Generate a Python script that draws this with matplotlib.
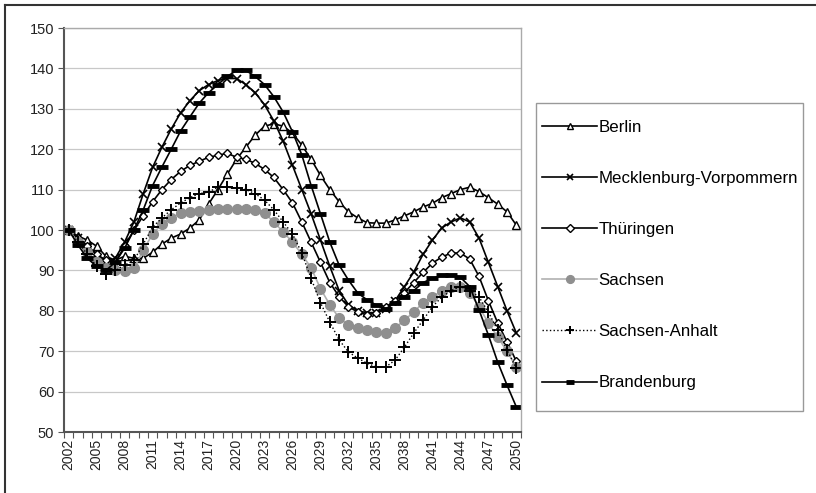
import matplotlib
matplotlib.use("Agg")
import matplotlib.pyplot as plt
from matplotlib.lines import Line2D
from matplotlib.patches import Rectangle
import numpy as np

plt.rcParams['font.family'] = ['Liberation Sans', 'DejaVu Sans']

years = list(range(2002, 2051))

berlin = [100, 98.5, 97.5, 96, 93.5, 92.5, 93.5, 93, 93,
          94.5, 96.5, 98, 99, 100.5, 102.5, 106.4, 110, 113.8, 117.5,
          120.5, 123.5, 125.7, 126.3, 125.7, 124, 121, 117.5, 113.5, 110,
          107, 104.5, 103, 101.8, 101.7, 101.7, 102.5, 103.5, 104.5, 105.7,
          106.6, 108, 109, 110, 110.6, 109.5, 108, 106.4, 104.5, 101.2]
meckpom = [100, 98, 96, 94, 92, 93, 97, 102, 109,
           115.5, 120.5, 125, 129, 132, 134.5, 136, 137, 137.5, 137.5,
           136, 134, 131, 127, 122, 116, 110, 104, 97.5, 91,
           85, 81.5, 80, 79.5, 79.5, 80.5, 82.5, 86, 89.6, 94,
           97.5, 100.5, 102, 103, 102, 98, 92, 86, 80, 74.5]
thueringen = [100, 98, 96, 94, 92.5, 92, 96, 100, 103.5,
              107, 110, 112.5, 114.5, 116, 117, 118, 118.5, 119, 118,
              117.5, 116.5, 115, 113, 110, 106.7, 102, 97, 92, 87,
              83.5, 81, 79.7, 79, 79.5, 81, 82.5, 84.5, 87, 89.5,
              91.8, 93.3, 94.3, 94.3, 92.8, 88.5, 82.5, 77, 72.3, 67.5]
sachsen = [100, 97, 94.5, 92, 90.5, 90, 89.8, 90.5, 95,
           99, 101.5, 103, 104.2, 104.5, 104.8, 105, 105.2, 105.3, 105.3,
           105.2, 105, 104.2, 102, 99.5, 97, 94, 90.6, 85.5, 81.5,
           78.2, 76.5, 75.7, 75.2, 74.7, 74.5, 75.7, 77.7, 79.7, 82,
           83.4, 85, 86, 86, 84.5, 81, 77, 73.5, 70, 66]
sachsen_anhalt = [100, 97, 94, 91, 89, 90, 91.3, 92.5, 96.5,
                  100.7, 103, 105, 106.7, 108, 109, 109.4, 110.6, 110.6, 110.3,
                  110, 109, 107.4, 105, 102, 99, 94.3, 88, 82, 77.2,
                  72.8, 69.8, 68.3, 67, 66.1, 66.1, 67.8, 71, 74.5, 77.7,
                  81, 83.4, 85, 86, 85, 83.4, 79.7, 75.2, 70.3, 65.8]
brandenburg = [100, 96.3, 93, 91, 90, 92, 95.5, 100, 105,
               111, 115.6, 120, 124.5, 128, 131.4, 134, 136, 138, 139.5,
               139.5, 138, 136, 133, 129.2, 124.3, 118.6, 111, 104, 97,
               91.3, 87.6, 84.4, 82.7, 81.4, 80.5, 82, 83.5, 85, 87,
               88, 88.8, 88.8, 88.3, 86, 80.2, 74, 67.3, 61.6, 56.2]

fig = plt.figure(figsize=(8.16, 4.93), dpi=100)
ax = fig.add_axes([0.0784, 0.1237, 0.5601, 0.8195])

lw = 1.2
ax.plot(years, berlin, color='black', lw=lw, marker='^', ms=6, mfc='white',
        mec='black', mew=1.0, label='Berlin')
ax.plot(years, meckpom, color='black', lw=lw, marker='x', ms=6, mew=1.2,
        label='Mecklenburg-Vorpommern')
ax.plot(years, thueringen, color='black', lw=lw, marker='D', ms=4.5, mfc='white',
        mec='black', mew=1.0, label='Thüringen')
ax.plot(years, sachsen, color='#b0b0b0', lw=lw, marker='o', ms=7, mfc='#8f8f8f',
        mec='#8f8f8f', label='Sachsen')
ax.plot(years, sachsen_anhalt, color='black', lw=1.0, ls=':', marker='+', ms=8,
        mew=1.4, label='Sachsen-Anhalt')
ax.plot(years, brandenburg, color='black', lw=lw, marker='_', ms=8, mew=3.5,
        label='Brandenburg')

ax.set_xlim(2001.5, 2050.5)
ax.set_ylim(50, 150)
ax.set_yticks(np.arange(50, 151, 10))
ax.set_xticks(years[::3])
ax.set_xticks(np.arange(2001.5, 2051, 1), minor=True)
ax.tick_params(axis='x', which='major', length=0, labelrotation=90, labelsize=10,
               pad=5, labelcolor='#222222')
ax.tick_params(axis='x', which='minor', length=4, width=0.8, color='#555555')
ax.tick_params(axis='y', length=4, width=0.8, color='#555555', labelsize=10.5,
               pad=3, labelcolor='#222222')
ax.grid(axis='y', color='#c8c8c8', lw=0.9)
ax.set_axisbelow(True)

for s in ['left', 'bottom']:
    ax.spines[s].set_color('#555555')
    ax.spines[s].set_linewidth(1.5)
for s in ['top', 'right']:
    ax.spines[s].set_color('#aaaaaa')
    ax.spines[s].set_linewidth(1.0)

# legend box drawn separately, entries without frame
fig.add_artist(Rectangle((536 / 816, 1 - 411 / 493), 267 / 816, 308 / 493,
                         transform=fig.transFigure, fill=False,
                         edgecolor='#999999', lw=1.0))
fig.legend(loc='upper left', bbox_to_anchor=(542 / 816, 1 - 120 / 493),
           fontsize=12.2, frameon=False, handlelength=3.25, markerscale=0.8,
           labelspacing=2.13, borderpad=0, handletextpad=0.1, borderaxespad=0)

# outer frame (top and left edges visible)
fig.add_artist(Line2D([5 / 816, 1.0], [1 - 5 / 493, 1 - 5 / 493], color='#333333', lw=1.5))
fig.add_artist(Line2D([5 / 816, 5 / 816], [0.0, 1 - 5 / 493], color='#333333', lw=1.5))

fig.savefig('out.png', dpi=100)
